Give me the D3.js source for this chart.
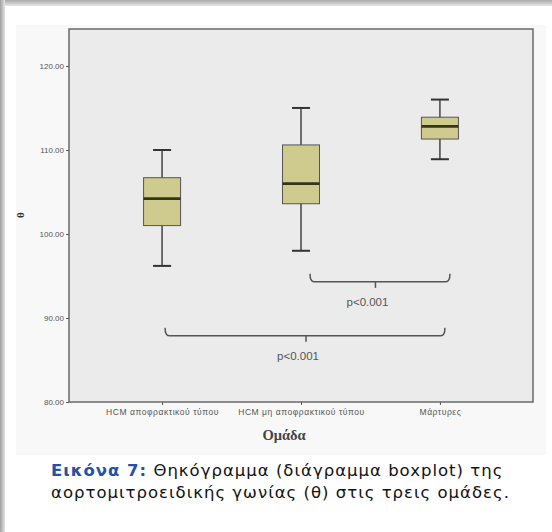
<!DOCTYPE html>
<meta charset="utf-8">
<style>
  body { margin: 0; background: #fff; }
  svg { display: block; }
  .tick text { font-family: 'Liberation Sans', Arial, sans-serif; fill: #555; }
</style>
<script src="https://d3js.org/d3.v7.min.js"></script>
<body>
<svg id="chart" width="552" height="532"></svg>
<script>

// groups and box statistics
var groups = ["HCM αποφρακτικού τύπου", "HCM μη αποφρακτικού τύπου", "Μάρτυρες"];
var whiskerLow  = [96.2, 98.0, 108.9];
var q1          = [101.0, 103.6, 111.3];
var median      = [104.2, 106.0, 112.8];
var q3          = [106.7, 110.6, 113.9];
var whiskerHigh = [110.0, 115.0, 116.0];
var yTicks = [80, 90, 100, 110, 120];

// significance brackets: [from group, to group, level, label]
var brackets = [
  [1, 2, 94.3, "p<0.001"],
  [0, 2, 87.9, "p<0.001"]
];

var svg = d3.select("#chart");

// photo frame shading
var defs = svg.append("defs");
var gTop = defs.append("linearGradient").attr("id", "gtop").attr("x1", 0).attr("y1", 0).attr("x2", 0).attr("y2", 1);
gTop.append("stop").attr("offset", "0%").attr("stop-color", "#a9a9a9");
gTop.append("stop").attr("offset", "100%").attr("stop-color", "#e6e6e6");
var gLeft = defs.append("linearGradient").attr("id", "gleft").attr("x1", 0).attr("y1", 0).attr("x2", 1).attr("y2", 0);
gLeft.append("stop").attr("offset", "0%").attr("stop-color", "#a0a0a0");
gLeft.append("stop").attr("offset", "100%").attr("stop-color", "#e4e4e4");
svg.append("rect").attr("x", 0).attr("y", 0).attr("width", 552).attr("height", 6).attr("fill", "url(#gtop)");
svg.append("rect").attr("x", 0).attr("y", 0).attr("width", 5).attr("height", 532).attr("fill", "url(#gleft)");

// chart panel
svg.append("rect").attr("x", 16).attr("y", 25).attr("width", 530).attr("height", 430).attr("fill", "#f8f8f8");

var plot = {left: 69, top: 29, right: 533, bottom: 402};

var y = d3.scaleLinear().domain([80, 124.4]).range([plot.bottom, plot.top]);
var x = d3.scalePoint().domain(groups).range([plot.left, plot.right]).padding(0.67);

svg.append("rect")
  .attr("x", plot.left).attr("y", plot.top)
  .attr("width", plot.right - plot.left).attr("height", plot.bottom - plot.top)
  .attr("fill", "#ebebeb").attr("stroke", "#6a6a6a").attr("stroke-width", 1.5);

// y axis
var yAxis = svg.append("g")
  .attr("transform", "translate(" + plot.left + ",0)")
  .call(d3.axisLeft(y).tickValues(yTicks).tickFormat(d3.format(".2f")).tickSize(3).tickPadding(2));
yAxis.select(".domain").remove();
yAxis.selectAll(".tick line").attr("stroke", "#555");
yAxis.selectAll(".tick text").style("font-size", "8px");

// x axis
var xAxis = svg.append("g")
  .attr("transform", "translate(0," + plot.bottom + ")")
  .call(d3.axisBottom(x).tickSize(3).tickPadding(4));
xAxis.select(".domain").remove();
xAxis.selectAll(".tick line").attr("stroke", "#555");
xAxis.selectAll(".tick text").style("font-size", "8.5px").style("letter-spacing", "0.55px");

// boxes
var boxW = 37, capW = 18;
var boxes = svg.append("g").selectAll("g")
  .data(groups.map(function(g, i) {
    return {g: g, lo: whiskerLow[i], q1: q1[i], med: median[i], q3: q3[i], hi: whiskerHigh[i]};
  }))
  .enter().append("g");

boxes.append("line")
  .attr("x1", function(d) { return x(d.g); }).attr("x2", function(d) { return x(d.g); })
  .attr("y1", function(d) { return y(d.lo); }).attr("y2", function(d) { return y(d.hi); })
  .attr("stroke", "#444").attr("stroke-width", 1.5);
boxes.selectAll(".cap")
  .data(function(d) { return [{g: d.g, v: d.lo}, {g: d.g, v: d.hi}]; })
  .enter().append("line")
  .attr("x1", function(d) { return x(d.g) - capW / 2; }).attr("x2", function(d) { return x(d.g) + capW / 2; })
  .attr("y1", function(d) { return y(d.v); }).attr("y2", function(d) { return y(d.v); })
  .attr("stroke", "#333").attr("stroke-width", 2);
boxes.append("rect")
  .attr("x", function(d) { return x(d.g) - boxW / 2; })
  .attr("y", function(d) { return y(d.q3); })
  .attr("width", boxW)
  .attr("height", function(d) { return y(d.q1) - y(d.q3); })
  .attr("fill", "#cfcb8f").attr("stroke", "#555").attr("stroke-width", 1);
boxes.append("line")
  .attr("x1", function(d) { return x(d.g) - boxW / 2; }).attr("x2", function(d) { return x(d.g) + boxW / 2; })
  .attr("y1", function(d) { return y(d.med); }).attr("y2", function(d) { return y(d.med); })
  .attr("stroke", "#35351c").attr("stroke-width", 2.8);

// significance brackets
var br = svg.append("g").selectAll("g").data(brackets).enter().append("g");
br.append("path")
  .attr("d", function(d) {
    var x1 = x(groups[d[0]]) + (d[0] == 0 ? 3 : 9), x2 = x(groups[d[1]]) + (d[0] == 0 ? 5 : 10);
    var yy = y(d[2]);
    return "M" + x1 + "," + (yy - 8) + "Q" + x1 + "," + yy + " " + (x1 + 4) + "," + yy +
           "L" + (x2 - 4) + "," + yy + "Q" + x2 + "," + yy + " " + x2 + "," + (yy - 8);
  })
  .attr("fill", "none").attr("stroke", "#555").attr("stroke-width", 1.5);
br.append("line")
  .attr("x1", function(d) { return (x(groups[d[0]]) + x(groups[d[1]])) / 2 + 5; })
  .attr("x2", function(d) { return (x(groups[d[0]]) + x(groups[d[1]])) / 2 + 5; })
  .attr("y1", function(d) { return y(d[2]); })
  .attr("y2", function(d) { return y(d[2]) + 6; })
  .attr("stroke", "#555").attr("stroke-width", 1.5);
br.append("text")
  .attr("x", function(d) { return (x(groups[d[0]]) + x(groups[d[1]])) / 2 - 3; })
  .attr("y", function(d) { return y(d[2]) + 24; })
  .attr("text-anchor", "middle")
  .style("font-family", "'Liberation Sans', Arial, sans-serif")
  .style("font-size", "11.5px").style("fill", "#555")
  .text(function(d) { return d[3]; });

// axis titles
svg.append("text")
  .attr("transform", "translate(24,215) rotate(-90)")
  .attr("text-anchor", "middle")
  .style("font-family", "'Liberation Serif', serif").style("font-weight", "bold")
  .style("font-size", "11px").style("fill", "#333")
  .text("θ");
svg.append("text")
  .attr("x", 284).attr("y", 440)
  .attr("text-anchor", "middle")
  .style("font-family", "'Liberation Serif', serif").style("font-weight", "bold")
  .style("font-size", "14.5px").style("fill", "#444")
  .text("Ομάδα");

// caption
var cap = svg.append("text")
  .style("font-family", "'DejaVu Sans', sans-serif").style("font-size", "16.5px")
  .style("letter-spacing", "1px").style("fill", "#111");
var l1 = cap.append("tspan").attr("x", 51).attr("y", 476);
l1.append("tspan").style("fill", "#2452a4").style("font-weight", "bold").text("Εικόνα 7:");
l1.append("tspan").text(" Θηκόγραμμα (διάγραμμα boxplot) της");
cap.append("tspan").attr("x", 51).attr("y", 498).text("αορτομιτροειδικής γωνίας (θ) στις τρεις ομάδες.");

</script>
</body>
